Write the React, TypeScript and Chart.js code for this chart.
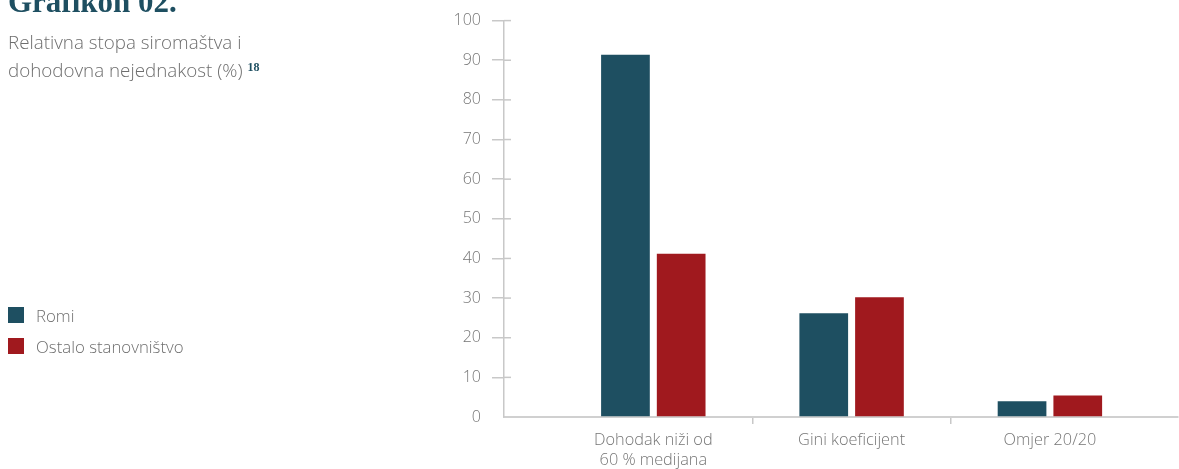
import React, { useEffect, useRef } from "react";
import { Chart, registerables } from "chart.js";

Chart.register(...registerables);

const categories: (string | string[])[] = [["Dohodak niži od", "60 % medijana"], "Gini koeficijent", "Omjer 20/20"];
const seriesNames = ["Romi", "Ostalo stanovništvo"];
const romi = [91.4, 26.2, 4.0];
const ostalo = [41.2, 30.2, 5.4];
const yTicks = [0, 10, 20, 30, 40, 50, 60, 70, 80, 90, 100];
const colors = ["#1e4f61", "#a0191e"];

const AXIS_GRAY = "#c8c8c8";
const TEXT_GRAY = "#767676";
const FONT = "'Open Sans', 'Noto Sans', sans-serif";

const innerTicks = {
  id: "innerTicks",
  afterDraw(chart: any) {
    const y = chart.scales.y;
    const ctx = chart.ctx;
    const left = chart.chartArea.left;
    ctx.save();
    ctx.strokeStyle = AXIS_GRAY;
    ctx.lineWidth = 1.5;
    y.ticks.forEach((t: any) => {
      if (t.value === 0) return;
      const py = y.getPixelForValue(t.value);
      ctx.beginPath();
      ctx.moveTo(left, py);
      ctx.lineTo(left + 7, py);
      ctx.stroke();
    });
    ctx.restore();
  },
};

export default function App() {
  const ref = useRef<HTMLCanvasElement | null>(null);
  useEffect(() => {
    if (!ref.current) return;
    const chart = new Chart(ref.current, {
      type: "bar",
      data: {
        datasets: [romi, ostalo].map((vals, di) => ({
          label: seriesNames[di],
          data: vals.map((v, i) => ({ x: i, y: v })),
          backgroundColor: colors[di],
          borderWidth: 0,
          categoryPercentage: 0.562,
          barPercentage: 0.874,
        })),
      },
      options: {
        animation: false,
        responsive: false,
        maintainAspectRatio: false,
        layout: { padding: { top: 17, right: 1, left: 0, bottom: 0 } },
        plugins: { legend: { display: false }, tooltip: { enabled: false } },
        scales: {
          x: {
            type: "linear",
            min: -0.753,
            max: 2.646,
            offset: false,
            afterBuildTicks: (scale: any) => {
              scale.ticks = categories.map((_, i) => ({ value: i }));
            },
            afterFit: (scale: any) => {
              scale.height = 52;
            },
            ticks: {
              autoSkip: false,
              maxRotation: 0,
              padding: 7,
              color: TEXT_GRAY,
              font: { family: FONT, size: 16.3, weight: "300", lineHeight: 1.2 },
              callback: (_v: any, i: number) => categories[i] as any,
            },
            grid: {
              offset: true,
              drawOnChartArea: false,
              tickLength: 7,
              lineWidth: 1.5,
              color: (c: any) => (c.index === 1 || c.index === 2 ? AXIS_GRAY : "rgba(0,0,0,0)"),
            },
            border: { color: "#d0d0d0", width: 2 },
          },
          y: {
            min: 0,
            max: 100,
            afterBuildTicks: (scale: any) => {
              scale.ticks = yTicks.map((v) => ({ value: v }));
            },
            afterFit: (scale: any) => {
              scale.width = 504;
            },
            ticks: {
              padding: 11,
              color: TEXT_GRAY,
              font: { family: FONT, size: 16, weight: "300" },
            },
            grid: {
              drawOnChartArea: false,
              tickLength: 12,
              lineWidth: 1.5,
              color: (c: any) => (c.tick && c.tick.value === 0 ? "rgba(0,0,0,0)" : AXIS_GRAY),
            },
            border: { color: AXIS_GRAY, width: 1.5 },
          },
        },
      },
      plugins: [innerTicks],
    });
    return () => chart.destroy();
  }, []);

  const textStyle: React.CSSProperties = {
    position: "absolute",
    fontFamily: FONT,
    fontWeight: 300,
    color: "#6e6e6e",
    whiteSpace: "nowrap",
    margin: 0,
  };

  return (
    <div style={{ position: "fixed", left: 0, top: 0, width: 1179, height: 469, background: "#fff", overflow: "hidden" }}>
      <canvas ref={ref} width={1179} height={469} style={{ position: "absolute", left: 0, top: 0, width: 1179, height: 469 }} />
      <div
        style={{
          position: "absolute",
          left: 8,
          top: -14,
          fontFamily: "'Liberation Serif', serif",
          fontWeight: 700,
          fontSize: 31,
          lineHeight: "32px",
          color: "#1e4f61",
          whiteSpace: "nowrap",
        }}
      >
        Grafikon 02.
      </div>
      <div style={{ ...textStyle, left: 8, top: 28, fontSize: 18.8, lineHeight: "28px" }}>
        <div>Relativna stopa siromaštva i</div>
        <div>
          dohodovna nejednakost (%){" "}
          <span
            style={{
              fontFamily: "'Liberation Serif', serif",
              fontWeight: 700,
              fontSize: 12,
              color: "#1e4f61",
              position: "relative",
              top: -6,
              lineHeight: 0,
            }}
          >
            18
          </span>
        </div>
      </div>
      {seriesNames.map((n, i) => (
        <div key={n} style={{ position: "absolute", left: 8, top: 307 + i * 31, height: 16, display: "flex", alignItems: "center" }}>
          <span style={{ display: "inline-block", width: 16, height: 16, background: colors[i] }} />
          <span style={{ fontFamily: FONT, fontWeight: 300, fontSize: 16.8, color: "#6e6e6e", marginLeft: 12, whiteSpace: "nowrap" }}>{n}</span>
        </div>
      ))}
    </div>
  );
}
